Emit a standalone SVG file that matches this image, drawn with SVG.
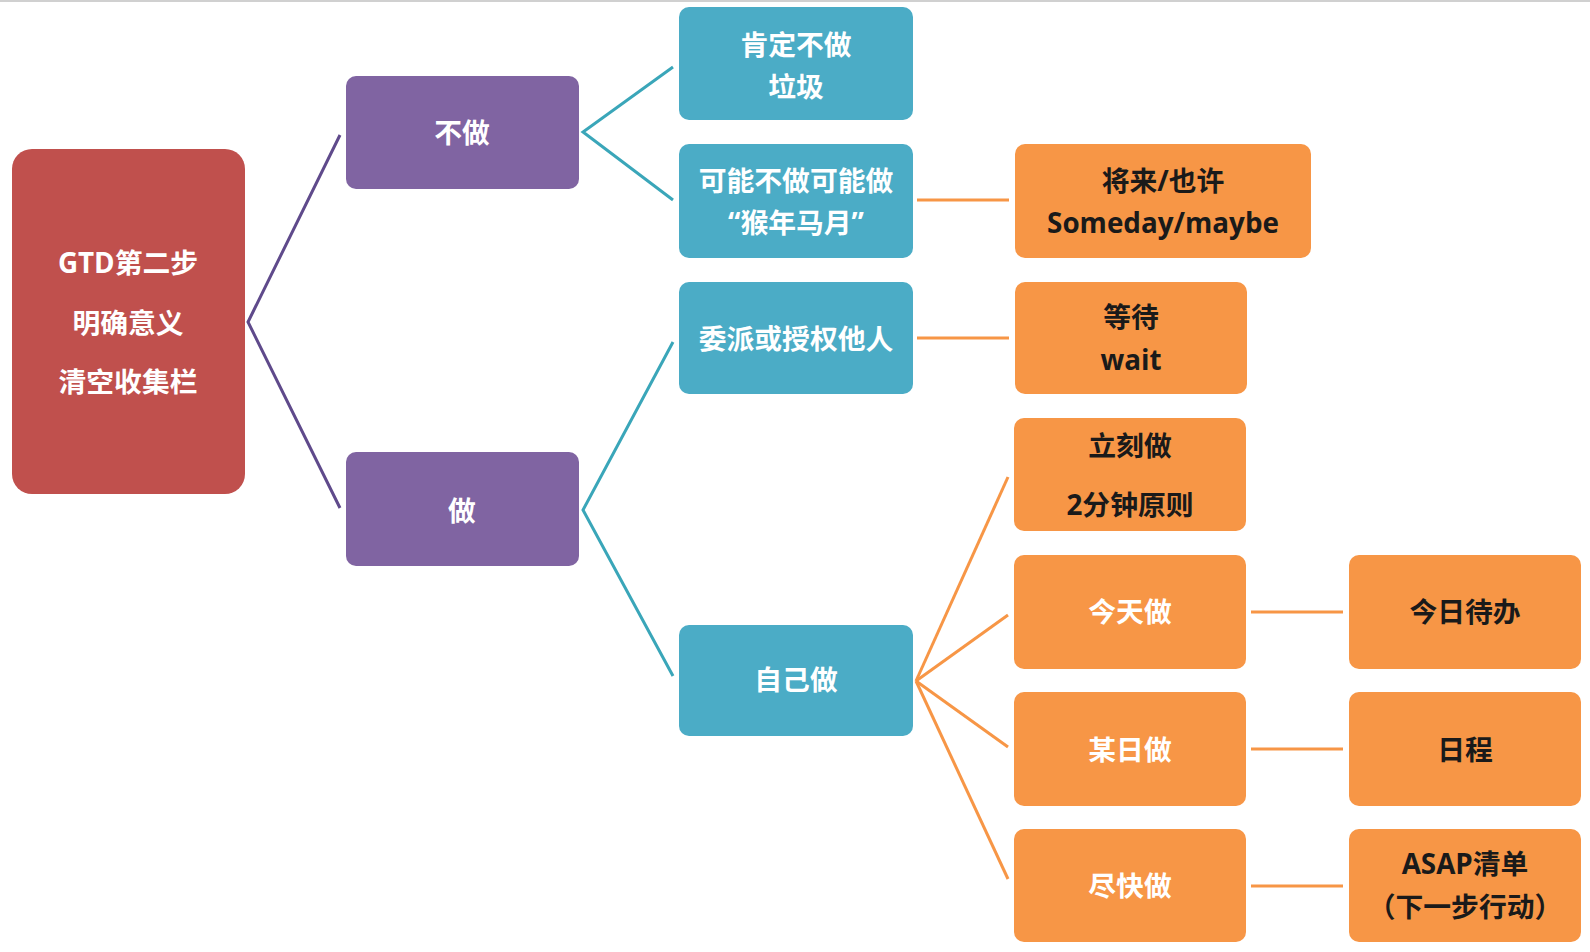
<svg xmlns="http://www.w3.org/2000/svg" width="1590" height="952" viewBox="0 0 1590 952">
<style>
.t{font-family:"Open Sans","Noto Sans CJK SC",sans-serif;font-weight:bold;font-size:27.8px;text-anchor:middle;dominant-baseline:central}
.w{fill:#ffffff}
.k{fill:#1a1a1a}
.red{fill:#c0504d}
.pur{fill:#8064a2}
.teal{fill:#4bacc6}
.org{fill:#f79646}
.lp{stroke:#5f4a8b;stroke-width:3;fill:none}
.lt{stroke:#3aa6b9;stroke-width:3;fill:none}
.lo{stroke:#f79646;stroke-width:3;fill:none}
</style>
<rect width="1590" height="952" fill="#ffffff"/>
<line x1="0" y1="1" x2="1590" y2="1" stroke="#d0d0d0" stroke-width="2"/>
<g id="connectors">
<polyline class="lp" points="340,135 248,322 340,508"/>
<polyline class="lt" points="673,67 583,132 673,200"/>
<polyline class="lt" points="673,342 583,510 673,676"/>
<line class="lo" x1="917" y1="200" x2="1009" y2="200"/>
<line class="lo" x1="917" y1="338" x2="1009" y2="338"/>
<line class="lo" x1="916" y1="681" x2="1008" y2="477"/>
<line class="lo" x1="916" y1="681" x2="1008" y2="615"/>
<line class="lo" x1="916" y1="681" x2="1008" y2="747"/>
<line class="lo" x1="916" y1="681" x2="1008" y2="879"/>
<line class="lo" x1="1251" y1="612" x2="1343" y2="612"/>
<line class="lo" x1="1251" y1="749" x2="1343" y2="749"/>
<line class="lo" x1="1251" y1="886" x2="1343" y2="886"/>
</g>
<g id="root">
<rect class="red" x="12" y="149" width="233" height="345" rx="20"/>
<text class="t w" x="128" y="262">GTD第二步</text>
<text class="t w" x="128" y="322">明确意义</text>
<text class="t w" x="128" y="381">清空收集栏</text>
</g>
<g id="budo">
<rect class="pur" x="346" y="76" width="233" height="113" rx="10"/>
<text class="t w" x="462" y="132">不做</text>
</g>
<g id="zuo">
<rect class="pur" x="346" y="452" width="233" height="114" rx="10"/>
<text class="t w" x="462" y="510">做</text>
</g>
<g id="kending">
<rect class="teal" x="679" y="7" width="234" height="113" rx="10"/>
<text class="t w" x="796" y="44">肯定不做</text>
<text class="t w" x="796" y="86">垃圾</text>
</g>
<g id="keneng">
<rect class="teal" x="679" y="144" width="234" height="114" rx="10"/>
<text class="t w" x="796" y="180">可能不做可能做</text>
<text class="t w" x="796" y="222">“猴年马月”</text>
</g>
<g id="weipai">
<rect class="teal" x="679" y="282" width="234" height="112" rx="10"/>
<text class="t w" x="796" y="338">委派或授权他人</text>
</g>
<g id="ziji">
<rect class="teal" x="679" y="625" width="234" height="111" rx="10"/>
<text class="t w" x="796" y="679">自己做</text>
</g>
<g id="jianglai">
<rect class="org" x="1015" y="144" width="296" height="114" rx="10"/>
<text class="t k" x="1163" y="180">将来/也许</text>
<text class="t k" x="1163" y="222">Someday/maybe</text>
</g>
<g id="dengdai">
<rect class="org" x="1015" y="282" width="232" height="112" rx="10"/>
<text class="t k" x="1131" y="316">等待</text>
<text class="t k" x="1131" y="359">wait</text>
</g>
<g id="like">
<rect class="org" x="1014" y="418" width="232" height="113" rx="10"/>
<text class="t k" x="1130" y="445">立刻做</text>
<text class="t k" x="1130" y="504">2分钟原则</text>
</g>
<g id="jintian">
<rect class="org" x="1014" y="555" width="232" height="114" rx="10"/>
<text class="t w" x="1130" y="611">今天做</text>
</g>
<g id="mouri">
<rect class="org" x="1014" y="692" width="232" height="114" rx="10"/>
<text class="t w" x="1130" y="749">某日做</text>
</g>
<g id="jinkuai">
<rect class="org" x="1014" y="829" width="232" height="113" rx="10"/>
<text class="t w" x="1130" y="885">尽快做</text>
</g>
<g id="jinri">
<rect class="org" x="1349" y="555" width="232" height="114" rx="10"/>
<text class="t k" x="1465" y="611">今日待办</text>
</g>
<g id="richeng">
<rect class="org" x="1349" y="692" width="232" height="114" rx="10"/>
<text class="t k" x="1465" y="749">日程</text>
</g>
<g id="asap">
<rect class="org" x="1349" y="829" width="232" height="113" rx="10"/>
<text class="t k" x="1465" y="863">ASAP清单</text>
<text class="t k" x="1465" y="906">（下一步行动）</text>
</g>
</svg>
